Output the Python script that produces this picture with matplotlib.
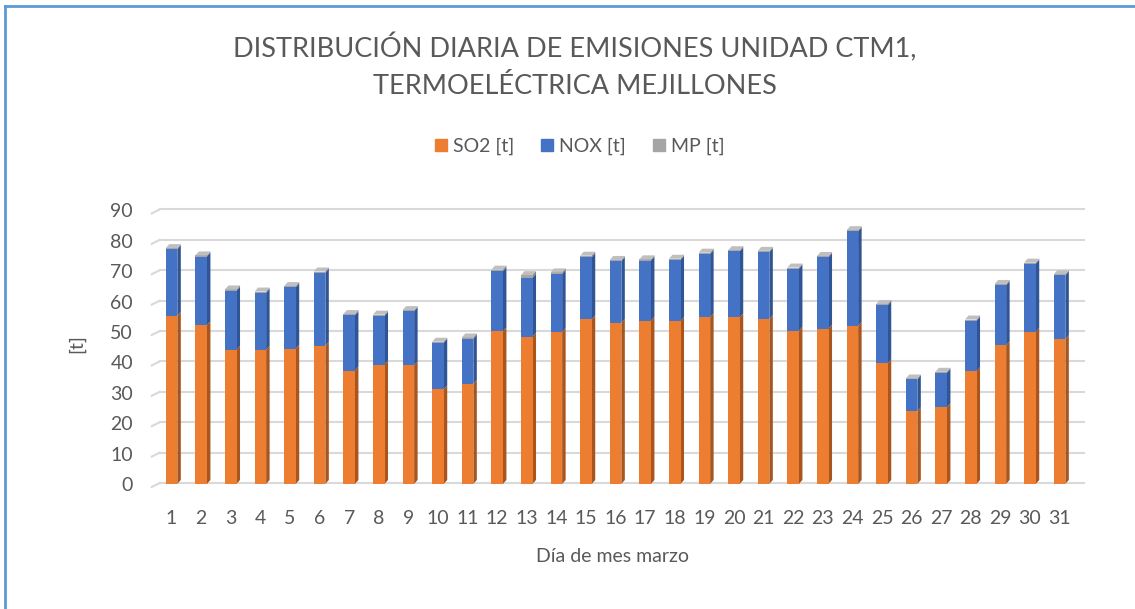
import matplotlib
matplotlib.use('Agg')
import matplotlib.pyplot as plt
from matplotlib.collections import PolyCollection
from matplotlib.lines import Line2D
import numpy as np

plt.rcParams['font.family'] = ['Lato', 'DejaVu Sans']

dias = list(range(1, 32))
so2 = [55.3, 52.2, 44.1, 44.1, 44.5, 45.4, 37.3, 39.3, 39.0, 31.1, 32.9,
       50.2, 48.5, 50.0, 54.2, 52.9, 53.7, 53.6, 54.8, 54.8, 54.2,
       50.4, 51.1, 52.0, 39.7, 23.9, 25.2, 37.1, 45.6, 50.0, 47.6]
nox = [21.9, 22.6, 19.5, 18.8, 20.2, 24.1, 18.2, 16.0, 17.8, 15.4, 14.9,
       19.8, 19.3, 19.1, 20.4, 20.4, 19.8, 20.1, 20.9, 21.7, 22.1,
       20.4, 23.5, 31.1, 19.1, 10.5, 11.4, 16.6, 19.8, 22.4, 21.0]
mp = [0.4, 0.4, 0.4, 0.4, 0.4, 0.4, 0.4, 0.4, 0.4, 0.3, 0.4,
      0.5, 0.9, 0.5, 0.5, 0.4, 0.4, 0.4, 0.4, 0.4, 0.4,
      0.4, 0.4, 0.4, 0.4, 0.3, 0.3, 0.4, 0.4, 0.4, 0.4]
series = ['SO2 [t]', 'NOX [t]', 'MP [t]']
caras = ['#ED7D31', '#4472C4', '#A5A5A5']
lados = ['#A9561E', '#2F5597', '#7F7F7F']
tapa = '#BFBFBF'
gris = '#595959'

fig = plt.figure(figsize=(11.35, 6.09), dpi=100)
ax = fig.add_axes([0.1355, 0.2053, 0.8176, 0.4492])
x0, x1 = 0.4, 31.75
ax.set_xlim(x0, x1)
ax.set_ylim(0, 90)

# pixeles por unidad (para el efecto 3D)
px_x = 29.6
px_y = 3.04

w = 0.39
dx = 3.5 / px_x   # profundidad en x
dy = 4 / px_y     # profundidad en y

x = np.array(dias, dtype=float)
base = np.zeros(len(x))
for vals, cara, lado in zip([so2, nox, mp], caras, lados):
    v = np.array(vals)
    polys = [[(xi + w/2, b), (xi + w/2 + dx, b + dy), (xi + w/2 + dx, b + h + dy), (xi + w/2, b + h)]
             for xi, b, h in zip(x, base, v)]
    ax.add_collection(PolyCollection(polys, facecolors=lado, edgecolors='none', zorder=3))
    ax.bar(x, v, width=w, bottom=base, color=cara, zorder=4)
    base = base + v
polys = [[(xi - w/2, t), (xi - w/2 + dx, t + dy), (xi + w/2 + dx, t + dy), (xi + w/2, t)]
         for xi, t in zip(x, base)]
ax.add_collection(PolyCollection(polys, facecolors=tapa, edgecolors='none', zorder=4))

# cuadricula en la pared del fondo con su tramo diagonal en el piso lateral
ga = x0 - 2 / px_x
gb = x0 + 6 / px_x
for yv in range(0, 91, 10):
    ax.plot([ga, gb], [yv - 3 / px_y, yv + 1 / px_y], color='#D9D9D9', lw=1.5, zorder=1, clip_on=False)
    ax.plot([gb, x1 + 2 / px_x], [yv + 1 / px_y, yv + 1 / px_y], color='#D9D9D9', lw=1.5, zorder=1, clip_on=False)

for s in ax.spines.values():
    s.set_visible(False)
ax.tick_params(length=0, colors=gris, labelsize=14)
ax.tick_params(axis='y', pad=15)
ax.tick_params(axis='x', pad=19)
ax.set_xticks(dias)
ax.set_yticks(range(0, 91, 10))

fig.text(575/1135, 1 - 66/609, 'DISTRIBUCIÓN DIARIA DE EMISIONES UNIDAD CTM1,\nTERMOELÉCTRICA MEJILLONES',
         ha='center', va='center', fontsize=19.5, color=gris, linespacing=1.55)
fig.text(612/1135, 1 - 557/609, 'Día de mes marzo', ha='center', va='center', fontsize=14, color=gris)
fig.text(77/1135, 1 - 344/609, '[t]', ha='center', va='center', fontsize=14, color=gris, rotation=90)

handles = [Line2D([], [], marker='s', linestyle='none', markersize=9, color=c) for c in caras]
fig.legend(handles, series, loc='center', bbox_to_anchor=(578/1135, 1 - 146/609), ncol=3, frameon=False,
           fontsize=14, labelcolor=gris, handletextpad=0.1, columnspacing=1.2, handlelength=1.0)

# borde
fig.add_artist(Line2D([5/1135, 1], [1 - 6/609, 1 - 6/609], transform=fig.transFigure, color='#5B9BD5', lw=2))
fig.add_artist(Line2D([5/1135, 5/1135], [0, 1 - 6/609], transform=fig.transFigure, color='#5B9BD5', lw=2))

fig.savefig('out.png', dpi=100)
